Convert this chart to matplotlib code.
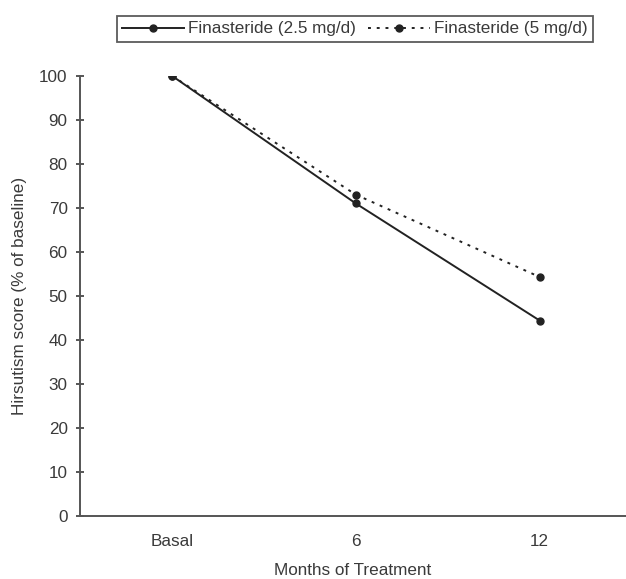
import matplotlib
matplotlib.use("Agg")
import matplotlib.pyplot as plt

categories = ["Basal", "6", "12"]
fin_25 = [100, 71, 44.4]
fin_5 = [100, 73, 54.3]
yticks = [0, 10, 20, 30, 40, 50, 60, 70, 80, 90, 100]

plt.rcParams['font.family'] = ['Liberation Sans', 'DejaVu Sans']
FS = 12.3
TXT = '#3a3a3a'

fig = plt.figure(figsize=(6.26, 5.79), dpi=100)
ax = fig.add_axes([0.128, 0.109, 0.872, 0.760])

x = list(range(len(categories)))
ax.plot(x, fin_25, color='#222222', lw=1.4, ls='-', marker='o', ms=5,
        label='Finasteride (2.5 mg/d)')
ax.plot(x, fin_5, color='#222222', lw=1.4, ls=(0, (1.5, 3)), marker='o', ms=5,
        label='Finasteride (5 mg/d)')

ax.set_xlim(-0.5, 2.47)
ax.set_ylim(0, 100)
ax.set_xticks(x)
ax.set_xticklabels(categories)
ax.set_yticks(yticks)
ax.tick_params(axis='x', length=0, pad=13, labelsize=FS, colors=TXT)
ax.tick_params(axis='y', direction='inout', length=6, width=1.2, pad=6,
               labelsize=FS, colors=TXT)
for s in ['top', 'right']:
    ax.spines[s].set_visible(False)
for s in ['left', 'bottom']:
    ax.spines[s].set_color('#555555')
    ax.spines[s].set_linewidth(1.4)

ax.set_xlabel('Months of Treatment', fontsize=FS, color=TXT, labelpad=10)
ax.set_ylabel('Hirsutism score (% of baseline)', fontsize=FS, color=TXT, labelpad=9)

leg = fig.legend(loc='center', bbox_to_anchor=(355/626, 1 - 29/579), ncol=2,
                 fontsize=FS, frameon=True, fancybox=False, handlelength=3.6,
                 columnspacing=0.7, handletextpad=0.25, borderpad=0.35,
                 borderaxespad=0)
leg.get_frame().set_edgecolor('#333333')
leg.get_frame().set_linewidth(1.3)
for t in leg.get_texts():
    t.set_color(TXT)

fig.savefig('out.png', dpi=100)
